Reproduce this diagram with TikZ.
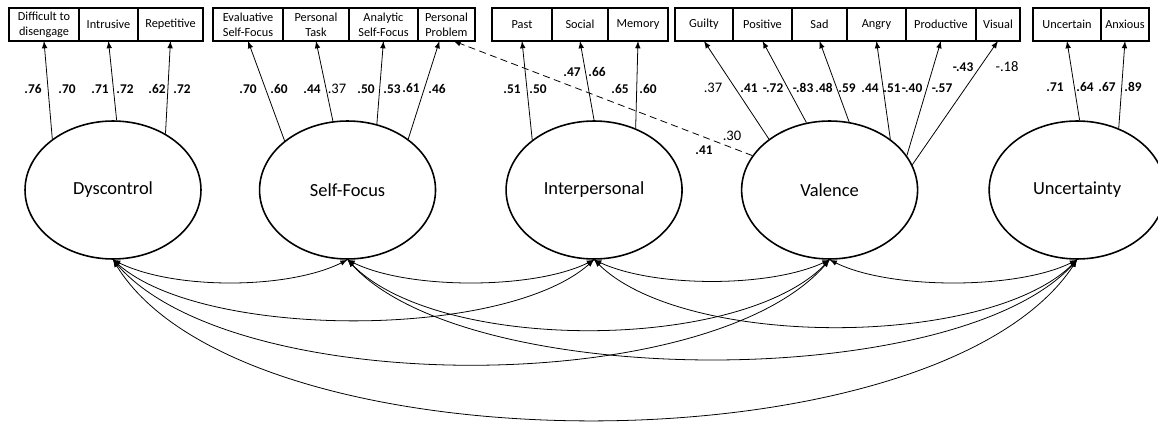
\documentclass[tikz,border=0pt]{standalone}
\usepackage{fontspec}
\setmainfont{Carlito}
\usetikzlibrary{shapes, arrows, positioning}

\begin{document}
\begin{tikzpicture}[>=latex, x=0.02cm, y=-0.02cm,
  ind/.style={draw, rectangle, line width=0.7pt, minimum height=0.66cm, inner sep=0pt, outer sep=0pt, align=center, font=\fontsize{7}{8.5}\selectfont},
  fac/.style={draw, ellipse, line width=0.9pt, minimum width=3.52cm, minimum height=2.76cm, inner sep=0pt, font=\fontsize{10.5}{12}\selectfont},
  ldarrow/.style={->, line width=0.45pt},
  cov/.style={<->, line width=0.45pt},
  bnum/.style={inner sep=0pt, font=\fontsize{7.6}{8}\selectfont\bfseries},
  rnum/.style={inner sep=0pt, font=\fontsize{8.3}{8.5}\selectfont}]

\useasboundingbox (0,0) rectangle (1158,422);

% indicators
\node[ind, minimum width=1.40cm, anchor=north west] (DIS) at (9,8) {Difficult to\\disengage};
\node[ind, minimum width=1.18cm, right=0cm of DIS] (ITR) {Intrusive};
\node[ind, minimum width=1.30cm, right=0cm of ITR] (REP) {Repetitive};

\node[ind, minimum width=1.40cm, anchor=north west] (EVA) at (213,8) {Evaluative\\Self-Focus};
\node[ind, minimum width=1.32cm, right=0cm of EVA] (PTK) {Personal\\Task};
\node[ind, minimum width=1.38cm, right=0cm of PTK] (ASF) {Analytic\\Self-Focus};
\node[ind, minimum width=1.14cm, right=0cm of ASF] (PPB) {Personal\\Problem};

\node[ind, minimum width=1.20cm, anchor=north west] (PST) at (492,8) {Past};
\node[ind, minimum width=1.12cm, right=0cm of PST] (SOC) {Social};
\node[ind, minimum width=1.20cm, right=0cm of SOC] (MEM) {Memory};

\node[ind, minimum width=1.16cm, anchor=north west] (GLT) at (675,8) {Guilty};
\node[ind, minimum width=1.18cm, right=0cm of GLT] (POS) {Positive};
\node[ind, minimum width=1.10cm, right=0cm of POS] (SAD) {Sad};
\node[ind, minimum width=1.18cm, right=0cm of SAD] (ANG) {Angry};
\node[ind, minimum width=1.40cm, right=0cm of ANG] (PRD) {Productive};
\node[ind, minimum width=0.88cm, right=0cm of PRD] (VIS) {Visual};

\node[ind, minimum width=1.36cm, anchor=north west] (UCT) at (1033,8) {Uncertain};
\node[ind, minimum width=0.96cm, right=0cm of UCT] (ANX) {Anxious};

% factors
\node[fac] (DYS) at (113,190) {Dyscontrol};
\node[fac, right=1.14cm of DYS] (SFO) {Self-Focus};
\node[fac, right=1.38cm of SFO] (INT) {Interpersonal};
\node[fac, right=1.16cm of INT] (VAL) {Valence};
\node[fac, right=1.40cm of VAL] (UNC) {Uncertainty};

% loadings
\draw[ldarrow] (DYS.140) -- (DIS.south);
\draw[ldarrow] (DYS.87) -- (ITR.south);
\draw[ldarrow] (DYS.47) -- (REP.south);

\draw[ldarrow] (SFO.142) -- (EVA.south);
\draw[ldarrow] (SFO.102) -- (PTK.south);
\draw[ldarrow] (SFO.66) -- (ASF.south);
\draw[ldarrow] (SFO.40) -- ([xshift=-0.14cm] PPB.south);

\draw[ldarrow] (INT.141) -- (PST.south);
\draw[ldarrow] (INT.90) -- (SOC.south);
\draw[ldarrow] (INT.56) -- (MEM.south);

\draw[ldarrow] (VAL.140) -- (GLT.south);
\draw[ldarrow] (VAL.109) -- (POS.south);
\draw[ldarrow] (VAL.74) -- (SAD.south);
\draw[ldarrow] (VAL.40) -- (ANG.south);
\draw[ldarrow] (VAL.24) -- (PRD.south);
\draw[ldarrow] (VAL.17) -- (VIS.south);
\draw[ldarrow, dashed, dash pattern=on 4pt off 2.5pt] (VAL.156) -- ([xshift=0.14cm] PPB.south);

\draw[ldarrow] (UNC.88) -- (UCT.south);
\draw[ldarrow] (UNC.56) -- (ANX.south);

% loading values
\node[bnum] (DISl) at (33,89) {.76};
\node[bnum] (DISr) at (67,89) {.70};
\node[bnum] (ITRl) at (100,89) {.71};
\node[bnum] (ITRr) at (125,89) {.72};
\node[bnum] (REPl) at (157,89) {.62};
\node[bnum] (REPr) at (182,89) {.72};

\node[bnum] (EVAl) at (248,89) {.70};
\node[bnum] (EVAr) at (279,89) {.60};
\node[bnum] (PTKl) at (312,89) {.44};
\node[rnum] (PTKr) at (337,89) {.37};
\node[bnum] (ASFl) at (366,89) {.50};
\node[bnum] (ASFr) at (392,89) {.53};
\node[bnum] (PPBl) at (411,88) {.61};
\node[bnum] (PPBr) at (437,89) {.46};

\node[bnum] (PSTl) at (512,89) {.51};
\node[bnum] (PSTr) at (538,89) {.50};
\node[bnum] (SOCl) at (572,72) {.47};
\node[bnum] (SOCr) at (597,72) {.66};
\node[bnum] (MEMl) at (620,89) {.65};
\node[bnum] (MEMr) at (648,89) {.60};

\node[rnum] (GLTl) at (713,88) {.37};
\node[bnum] (GLTr) at (749,88) {.41};
\node[bnum] (POSl) at (773,88) {-.72};
\node[bnum] (POSr) at (803,88) {-.83};
\node[bnum] (SADl) at (824,88) {.48};
\node[bnum] (SADr) at (847,88) {.59};
\node[bnum] (ANGl) at (870,88) {.44};
\node[bnum] (ANGr) at (892,88) {.51};
\node[bnum] (PRDl) at (912,88) {-.40};
\node[bnum] (PRDr) at (942,88) {-.57};
\node[bnum] (VISl) at (963,67) {-.43};
\node[rnum] (VISr) at (1007,67) {-.18};
\node[rnum] (PPBd) at (732,136) {.30};
\node[bnum] (VALd) at (704,150) {.41};

\node[bnum] (UCTl) at (1055,87) {.71};
\node[bnum] (UCTr) at (1085,87) {.64};
\node[bnum] (ANXl) at (1107,87) {.67};
\node[bnum] (ANXr) at (1133,87) {.89};

% covariances
\draw[cov] (DYS.south) .. controls +(60,30) and +(-60,30) .. (SFO.south);
\draw[cov] (SFO.south) .. controls +(60,30) and +(-60,30) .. (INT.south);
\draw[cov] (INT.south) .. controls +(60,28) and +(-60,28) .. (VAL.south);
\draw[cov] (VAL.south) .. controls +(60,30) and +(-60,30) .. (UNC.south);

\draw[cov] (DYS.south) .. controls +(90,80) and +(-90,80) .. (INT.south);
\draw[cov] (SFO.south) .. controls +(90,93) and +(-90,93) .. (VAL.south);
\draw[cov] (INT.south) .. controls +(90,89) and +(-90,89) .. (UNC.south);

\draw[cov] (DYS.south) .. controls +(120,139) and +(-120,139) .. (VAL.south);
\draw[cov] (SFO.south) .. controls +(120,132) and +(-120,132) .. (UNC.south);

\draw[cov] (DYS.south) .. controls +(130,213) and +(-140,213) .. (UNC.south);

\end{tikzpicture}
\end{document}
